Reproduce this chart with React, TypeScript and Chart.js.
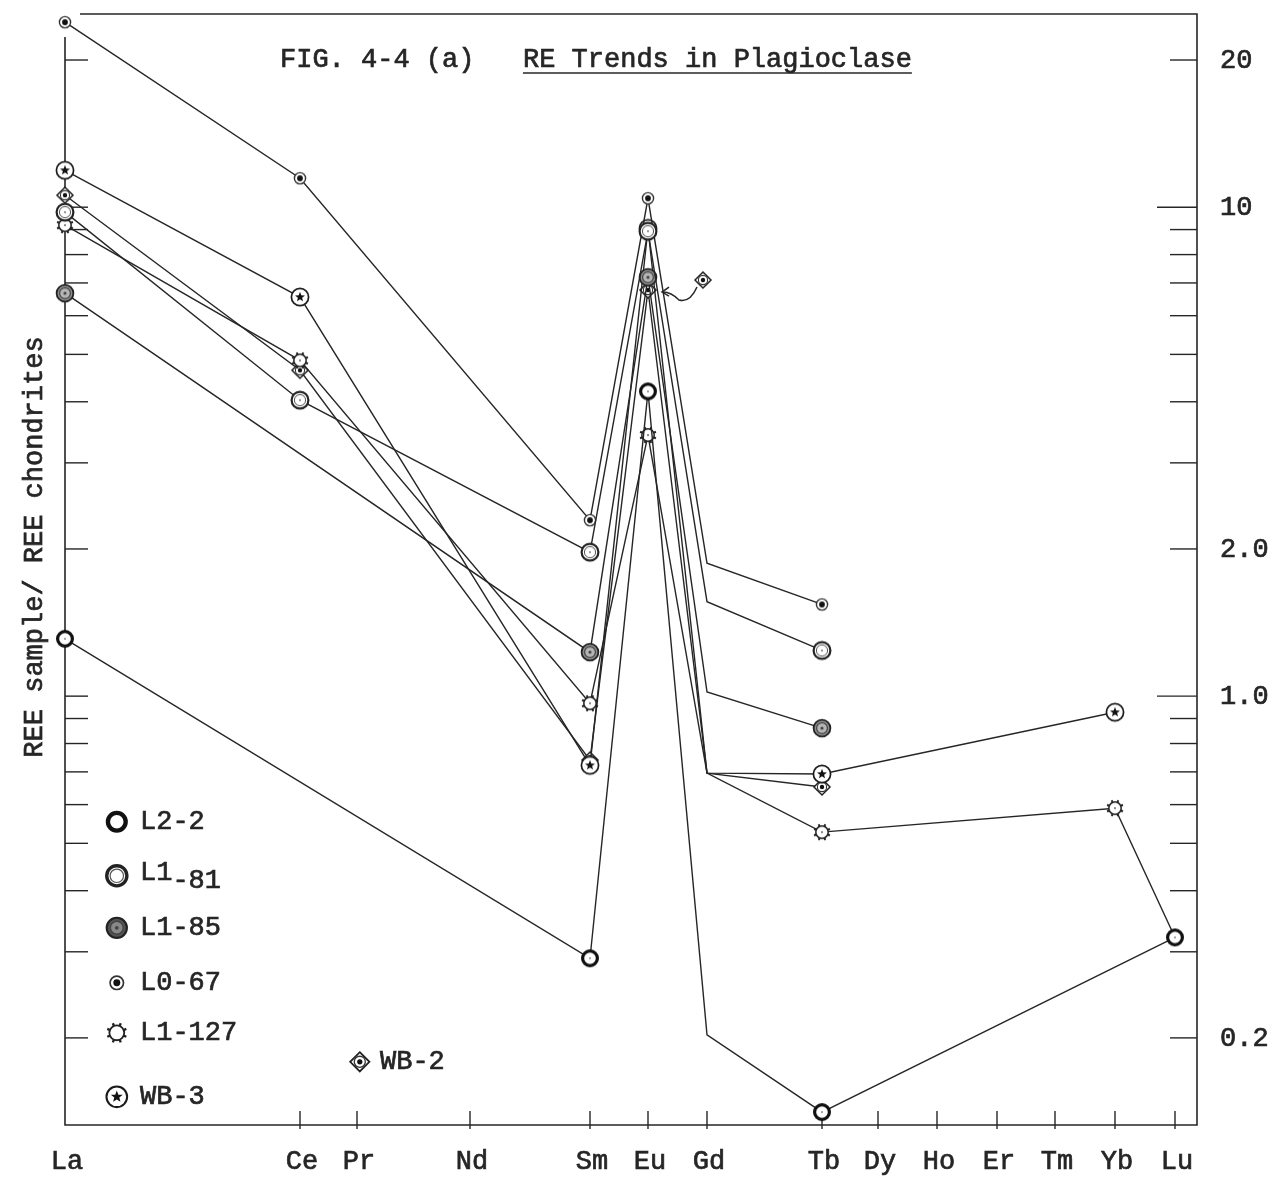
import React, { useEffect, useRef } from "react";
import { Chart, registerables } from "chart.js";

Chart.register(...registerables);

// ---------- data ----------
const elements = ["La", "Ce", "Pr", "Nd", "Sm", "Eu", "Gd", "Tb", "Dy", "Ho", "Er", "Tm", "Yb", "Lu"];
// horizontal placement of each element along the axis (arbitrary linear units)
const elementPositions = [0, 235, 292, 405, 525, 583, 642, 757, 813, 872, 932, 990, 1050, 1110];
const xMin = 0;
const xMax = 1132;
const yMin = 0.1327;
const yMax = 24.84;

const L2_2 = [1.31, null, null, null, 0.291, 4.2, 0.203, 0.141, null, null, null, null, null, 0.321];
const L1_81 = [9.77, 4.03, null, null, 1.97, 8.93, 1.56, 1.24, null, null, null, null, null, null];
const L1_85 = [6.67, null, null, null, 1.23, 7.19, 1.02, 0.86, null, null, null, null, null, null];
const L0_67 = [23.9, 11.46, null, null, 2.29, 10.43, 1.87, 1.54, null, null, null, null, null, null];
const L1_127 = [9.19, 4.86, null, null, 0.967, 3.42, 0.696, 0.527, null, null, null, null, 0.59, 0.321];
const WB_3 = [11.9, 6.55, null, null, 0.722, 9.05, 0.696, 0.693, null, null, null, null, 0.927, null];
const WB_2 = [10.58, 4.64, null, null, 0.74, 6.77, 0.696, 0.652, null, null, null, null, null, null];

// elements drawn as plain line vertices (no symbol)
const unmarkedCommon = ["Gd"];
const unmarkedL1_127 = ["Gd", "Lu"];

const yTickValues = [20, 10, 9, 8, 7, 6, 5, 4, 3, 2, 1, 0.9, 0.8, 0.7, 0.6, 0.5, 0.4, 0.3, 0.2];
const yMajorTicks = [10, 1];
const yLabelValues = [20, 10, 2, 1, 0.2];
const yLabelTexts = ["20", "10", "2.0", "1.0", "0.2"];

const FONT = '"Liberation Mono", "DejaVu Sans Mono", monospace';
const INK = "#262626";

type Series = { name: string; values: (number | null)[]; marker: string; unmarked: string[] };
const seriesList: Series[] = [
  { name: "L2-2", values: L2_2, marker: "bold", unmarked: unmarkedCommon },
  { name: "L1-81", values: L1_81, marker: "double", unmarked: unmarkedCommon },
  { name: "L1-85", values: L1_85, marker: "shaded", unmarked: unmarkedCommon },
  { name: "L0-67", values: L0_67, marker: "dot", unmarked: unmarkedCommon },
  { name: "L1-127", values: L1_127, marker: "sun", unmarked: unmarkedL1_127 },
  { name: "WB-3", values: WB_3, marker: "starc", unmarked: unmarkedCommon },
  { name: "WB-2", values: WB_2, marker: "diamond", unmarked: unmarkedCommon },
];

// ---------- markers ----------
function makeMarker(kind: string, scale = 1, legend = false): HTMLCanvasElement {
  const size = Math.round(28 * scale);
  const c = document.createElement("canvas");
  c.width = size;
  c.height = size;
  const g = c.getContext("2d")!;
  g.scale(scale, scale);
  const cx = 14, cy = 14;
  const circle = (r: number, lw: number, fill?: string, stroke = "#1a1a1a") => {
    g.beginPath();
    g.arc(cx, cy, r, 0, Math.PI * 2);
    if (fill) { g.fillStyle = fill; g.fill(); }
    g.lineWidth = lw;
    g.strokeStyle = stroke;
    g.stroke();
  };
  const dot = (r: number, col = "#333") => {
    g.beginPath();
    g.arc(cx, cy, r, 0, Math.PI * 2);
    g.fillStyle = col;
    g.fill();
  };
  switch (kind) {
    case "bold":
      circle(7.4, legend ? 3.6 : 3.2, "#fff", "#111");
      if (!legend) dot(1, "#888");
      break;
    case "double":
      circle(8.4, legend ? 2.8 : 2.2, "#fff", "#222");
      circle(5.6, 1, undefined, "#555");
      if (!legend) dot(1, "#777");
      break;
    case "shaded":
      circle(8.4, 1.8, legend ? "#555" : "#8c8c8c", "#222");
      circle(5.4, 1.2, legend ? "#888" : "#b5b5b5", "#444");
      dot(1.6, "#444");
      break;
    case "dot":
      circle(5.6, 1.4, "#fff", "#333");
      dot(2.9, "#111");
      break;
    case "sun": {
      g.strokeStyle = "#222";
      g.lineWidth = 2;
      for (let i = 0; i < 8; i++) {
        const a = (i * Math.PI) / 4 + Math.PI / 8;
        g.beginPath();
        g.moveTo(cx + Math.cos(a) * 6, cy + Math.sin(a) * 6);
        g.lineTo(cx + Math.cos(a) * 8.6, cy + Math.sin(a) * 8.6);
        g.stroke();
      }
      circle(6.2, 1.5, "#fff", "#222");
      if (!legend) dot(1, "#666");
      break;
    }
    case "starc": {
      circle(8.6, 1.7, "#fff", "#1a1a1a");
      g.beginPath();
      for (let i = 0; i < 10; i++) {
        const r = i % 2 === 0 ? 5.2 : 2.2;
        const a = -Math.PI / 2 + (i * Math.PI) / 5;
        const px = cx + Math.cos(a) * r, py = cy + Math.sin(a) * r;
        if (i === 0) g.moveTo(px, py); else g.lineTo(px, py);
      }
      g.closePath();
      g.fillStyle = "#111";
      g.fill();
      break;
    }
    case "diamond": {
      g.beginPath();
      g.moveTo(cx, cy - 8);
      g.lineTo(cx + 8, cy);
      g.lineTo(cx, cy + 8);
      g.lineTo(cx - 8, cy);
      g.closePath();
      g.fillStyle = "#fff";
      g.fill();
      g.lineWidth = 1.5;
      g.strokeStyle = "#222";
      g.stroke();
      circle(4.6, 1.1, undefined, "#333");
      dot(2.2, "#111");
      break;
    }
  }
  return c;
}

function inkText(ctx: CanvasRenderingContext2D, text: string, x: number, y: number) {
  ctx.fillText(text, x, y);
  ctx.strokeText(text, x, y);
}

export default function App() {
  const canvasRef = useRef<HTMLCanvasElement | null>(null);

  useEffect(() => {
    document.body.style.margin = "0";
    const canvas = canvasRef.current!;
    const markers: Record<string, HTMLCanvasElement> = {};
    const legendMarkers: Record<string, HTMLCanvasElement> = {};
    for (const s of seriesList) {
      markers[s.marker] = makeMarker(s.marker, 1, false);
      legendMarkers[s.marker] = makeMarker(s.marker, 1.2, true);
    }

    const datasets = seriesList.map((s) => {
      const pts: { x: number; y: number; el: string }[] = [];
      s.values.forEach((v, i) => {
        if (v !== null) pts.push({ x: elementPositions[i], y: v, el: elements[i] });
      });
      return {
        label: s.name,
        data: pts,
        borderColor: INK,
        borderWidth: 1.4,
        tension: 0,
        fill: false,
        clip: false as any,
        pointStyle: markers[s.marker] as any,
        pointRadius: pts.map((p) => (s.unmarked.includes(p.el) ? 0 : 8)),
        pointHoverRadius: 0,
      };
    });

    const decorPlugin = {
      id: "decor",
      beforeDraw(chart: any) {
        const ctx = chart.ctx;
        ctx.save();
        ctx.fillStyle = "#fff";
        ctx.fillRect(0, 0, chart.width, chart.height);
        ctx.restore();
      },
      beforeDatasetsDraw(chart: any) {
        const ctx = chart.ctx as CanvasRenderingContext2D;
        const a = chart.chartArea;
        const xs = chart.scales.x;
        const ys = chart.scales.y;
        ctx.save();
        ctx.strokeStyle = INK;
        ctx.lineWidth = 1.6;
        // frame
        ctx.beginPath();
        ctx.moveTo(a.left + 15, a.top);
        ctx.lineTo(a.right, a.top);
        ctx.lineTo(a.right, a.bottom);
        ctx.lineTo(a.left, a.bottom);
        ctx.lineTo(a.left, a.top + 23);
        ctx.stroke();
        // y ticks
        ctx.lineWidth = 1.4;
        for (const v of yTickValues) {
          const py = ys.getPixelForValue(v);
          const major = yMajorTicks.includes(v);
          ctx.beginPath();
          ctx.moveTo(a.right, py);
          ctx.lineTo(a.right - (major ? 40 : 27), py);
          ctx.stroke();
          ctx.beginPath();
          ctx.moveTo(a.left, py);
          ctx.lineTo(a.left + 23, py);
          ctx.stroke();
        }
        // x ticks
        elementPositions.forEach((p, i) => {
          if (i === 0) return;
          const px = xs.getPixelForValue(p);
          ctx.beginPath();
          ctx.moveTo(px, a.bottom - 14);
          ctx.lineTo(px, a.bottom + 4);
          ctx.stroke();
        });
        ctx.restore();
      },
      afterDraw(chart: any) {
        const ctx = chart.ctx as CanvasRenderingContext2D;
        const a = chart.chartArea;
        const xs = chart.scales.x;
        const ys = chart.scales.y;
        ctx.save();
        ctx.fillStyle = INK;
        ctx.strokeStyle = INK;
        ctx.lineWidth = 0.7;
        ctx.font = `27px ${FONT}`;
        // right labels
        ctx.textAlign = "left";
        ctx.textBaseline = "middle";
        yLabelValues.forEach((v, i) => {
          inkText(ctx, yLabelTexts[i], a.right + 23, ys.getPixelForValue(v) + 1);
        });
        // x labels
        ctx.textAlign = "center";
        elements.forEach((el, i) => {
          inkText(ctx, el, xs.getPixelForValue(elementPositions[i]) + 2, a.bottom + 37);
        });
        // title
        ctx.textAlign = "left";
        ctx.textBaseline = "alphabetic";
        inkText(ctx, "FIG. 4-4 (a)", 280, 67);
        const sub = "RE Trends in Plagioclase";
        inkText(ctx, sub, 523, 67);
        const w = ctx.measureText(sub).width;
        ctx.lineWidth = 1.5;
        ctx.beginPath();
        ctx.moveTo(523, 73);
        ctx.lineTo(523 + w, 73);
        ctx.stroke();
        ctx.lineWidth = 0.7;
        // y title
        ctx.save();
        ctx.translate(35, 547);
        ctx.rotate(-Math.PI / 2);
        ctx.textAlign = "center";
        ctx.textBaseline = "middle";
        inkText(ctx, "REE sample/ REE chondrites", 0, 0);
        ctx.restore();
        // legend
        const rows: [string, string, number][] = [
          ["bold", "L2-2", 822],
          ["double", "L1-81", 876],
          ["shaded", "L1-85", 928],
          ["dot", "L0-67", 983],
          ["sun", "L1-127", 1033],
          ["starc", "WB-3", 1097],
        ];
        ctx.textBaseline = "middle";
        ctx.textAlign = "left";
        for (const [m, label, y] of rows) {
          const img = legendMarkers[m];
          ctx.drawImage(img, a.left + 52 - img.width / 2, y - img.height / 2);
          if (label === "L1-81") {
            inkText(ctx, "L1", a.left + 75, y - 3);
            inkText(ctx, "-81", a.left + 75 + ctx.measureText("L1").width, y + 5);
          } else {
            inkText(ctx, label, a.left + 75, y);
          }
        }
        const wbImg = legendMarkers["diamond"];
        ctx.drawImage(wbImg, 360 - wbImg.width / 2, 1062 - wbImg.height / 2);
        inkText(ctx, "WB-2", 380, 1062);

        // WB-2 annotation near Eu peak
        const euIdx = elements.indexOf("Eu");
        const px = xs.getPixelForValue(elementPositions[euIdx]);
        const py = ys.getPixelForValue(WB_2[euIdx] as number);
        const mk = markers["diamond"];
        ctx.drawImage(mk, px + 55 - mk.width / 2, py - 10 - mk.height / 2);
        ctx.lineWidth = 1.5;
        ctx.beginPath();
        ctx.moveTo(px + 49, py - 3);
        ctx.quadraticCurveTo(px + 42, py + 13, px + 31, py + 10);
        ctx.quadraticCurveTo(px + 23, py + 2, px + 15, py + 2);
        ctx.stroke();
        ctx.beginPath();
        ctx.moveTo(px + 21, py - 3);
        ctx.lineTo(px + 14, py + 2);
        ctx.lineTo(px + 21, py + 6);
        ctx.stroke();
        ctx.restore();
      },
    };

    const chart = new Chart(canvas, {
      type: "line",
      data: { datasets: datasets as any },
      options: {
        animation: false,
        responsive: false,
        devicePixelRatio: 1,
        parsing: false as any,
        layout: { padding: { left: 65, right: 79, top: 14, bottom: 52 } },
        plugins: { legend: { display: false }, tooltip: { enabled: false }, title: { display: false } },
        events: [],
        scales: {
          x: { type: "linear", min: xMin, max: xMax, display: false },
          y: { type: "logarithmic", min: yMin, max: yMax, display: false },
        },
      },
      plugins: [decorPlugin],
    });
    return () => chart.destroy();
  }, []);

  return <canvas ref={canvasRef} width={1276} height={1177} style={{ display: "block" }} />;
}
